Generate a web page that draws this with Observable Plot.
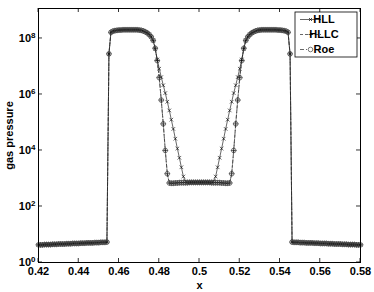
<!DOCTYPE html>
<html><head><meta charset="utf-8">
<script src="https://cdn.jsdelivr.net/npm/d3@7"></script>
<script src="https://cdn.jsdelivr.net/npm/@observablehq/plot@0.6"></script>
<style>
body{margin:0;background:#fff}
#chart svg text{font-family:"Liberation Sans",Arial,Helvetica,sans-serif;font-weight:bold;font-size:11px}
#chart svg text tspan.sup{font-size:8px}
</style>
</head><body><div id="chart"></div>
<script>
// grid: x = 0.420 .. 0.580, step 0.001 (161 cells)
const xGrid = d3.range(161).map(i => +(0.42 + 0.001 * i).toFixed(3));

// log10(gas pressure)
const lowLeft = [0.63,0.63,0.63,0.64,0.64,0.64,0.64,0.65,0.65,0.65,0.66,0.66,0.66,0.66,0.67,0.67,0.67,0.68,0.68,0.68,0.68,0.69,0.69,0.69,0.70,0.70,0.70,0.70,0.71,0.71,0.71,0.72,0.72,0.72,0.73];
const shockLeft = [7.45];
const plateauLeft = [8.22,8.26,8.28,8.29,8.30,8.30,8.31,8.31,8.31,8.31,8.31,8.31,8.31,8.31,8.30,8.29,8.27,8.24,8.20,8.14,8.06,7.93];
const plateauRight = [7.93,8.06,8.14,8.20,8.24,8.27,8.29,8.30,8.31,8.31,8.31,8.31,8.31,8.31,8.31,8.31,8.30,8.30,8.29,8.28,8.26,8.22];
const shockRight = [7.45];
const lowRight = [0.73,0.72,0.72,0.72,0.71,0.71,0.71,0.70,0.70,0.70,0.70,0.69,0.69,0.69,0.68,0.68,0.68,0.68,0.67,0.67,0.67,0.66,0.66,0.66,0.66,0.65,0.65,0.65,0.64,0.64,0.64,0.64,0.63,0.63,0.63];

const hllCenter = [7.62,7.25,6.92,6.62,6.33,6.05,5.74,5.43,5.10,4.77,4.42,4.07,3.74,3.40,3.07,2.90,
  2.86,2.86,2.86,2.86,2.86,2.86,2.86,2.86,2.86,2.86,2.86,2.86,2.86,
  2.90,3.07,3.40,3.74,4.07,4.42,4.77,5.10,5.43,5.74,6.05,6.33,6.62,6.92,7.25,7.62];
const hllcCenter = [7.65,7.21,6.60,5.80,4.95,4.00,3.17,
  2.84,2.83,2.83,2.84,2.84,2.85,2.85,2.85,2.85,2.85,2.86,2.86,2.86,2.86,2.86,2.86,2.86,2.86,2.86,2.86,2.86,2.85,2.85,2.85,2.85,2.85,2.84,2.84,2.83,2.83,2.84,
  3.17,4.00,4.95,5.80,6.60,7.21,7.65];
const roeCenter = [7.65,7.21,6.60,5.80,4.95,4.00,3.17,
  2.84,2.83,2.83,2.84,2.84,2.85,2.85,2.85,2.85,2.85,2.86,2.86,2.86,2.86,2.86,2.86,2.86,2.86,2.86,2.86,2.86,2.85,2.85,2.85,2.85,2.85,2.84,2.84,2.83,2.83,2.84,
  3.17,4.00,4.95,5.80,6.60,7.21,7.65];

const xTicks = [0.42,0.44,0.46,0.48,0.5,0.52,0.54,0.56,0.58];
const yTicks = [1,1e2,1e4,1e6,1e8];
const seriesNames = ["HLL","HLLC","Roe"];

function build(center){ return [...lowLeft,...shockLeft,...plateauLeft,...center,...plateauRight,...shockRight,...lowRight]; }
function rows(center){ return build(center).map((v,i)=>({x:xGrid[i], p:Math.pow(10,v)})); }
const hll = rows(hllCenter), hllc = rows(hllcCenter), roe = rows(roeCenter);

const font = "Liberation Sans, Arial, Helvetica, sans-serif";
const plot = Plot.plot({
  width: 374, height: 292,
  marginLeft: 38, marginRight: 14, marginTop: 8, marginBottom: 30,
  style: {fontFamily: font, fontSize: "11px", fontWeight: "bold", background: "white", color: "black"},
  x: {domain: [0.42, 0.58]},
  y: {type: "log", domain: [1, Math.pow(10, 9.07)]},
  marks: [
    Plot.axisX({ticks: xTicks, tickSize: 0, tickPadding: 5, tickFormat: d => String(+d.toFixed(2)), label: null}),
    Plot.axisY({ticks: yTicks, tickSize: 0, tickPadding: 3, tickFormat: d => String(Math.round(Math.log10(d))), label: null}),
    Plot.line(hll, {x: "x", y: "p", stroke: "black", strokeWidth: 0.6}),
    Plot.dot(hll, {x: "x", y: "p", symbol: "times", r: 1.8, stroke: "black", strokeWidth: 0.6}),
    Plot.line(hllc, {x: "x", y: "p", stroke: "black", strokeWidth: 0.6, strokeDasharray: "3,2"}),
    Plot.dot(hllc, {x: "x", y: "p", symbol: "plus", r: 2, stroke: "black", strokeWidth: 0.6}),
    Plot.line(roe, {x: "x", y: "p", stroke: "#333", strokeWidth: 0.6, strokeDasharray: "4,2,1,2"}),
    Plot.dot(roe, {x: "x", y: "p", symbol: "circle", r: 2.3, stroke: "#444", strokeWidth: 0.7, fill: "none"}),
    Plot.frame({stroke: "black", strokeWidth: 1}),
    Plot.text(["gas pressure"], {frameAnchor: "left", dx: -29, rotate: -90, textAnchor: "middle", lineAnchor: "middle"}),
    Plot.text(["x"], {frameAnchor: "bottom", dy: 23, textAnchor: "middle", lineAnchor: "middle"})
  ]
});
document.getElementById("chart").appendChild(plot);

const svg = d3.select(plot);
// y tick labels as 10 with superscript exponent
svg.selectAll('g[aria-label="y-axis tick label"] text').each(function(){
  const t = d3.select(this); const e = t.text();
  t.text("10");
  t.append("tspan").attr("class", "sup").attr("dy", "-0.45em").text(e);
});
// inward ticks on all four sides
const sx = plot.scale("x"), sy = plot.scale("y");
const x0 = 38, x1 = 360, y0 = 8, y1 = 262, L = 4;
const tg = svg.append("g").attr("stroke", "black").attr("stroke-width", 0.8);
xTicks.forEach(v => {
  const px = sx.apply(v);
  tg.append("line").attr("x1", px).attr("x2", px).attr("y1", y1).attr("y2", y1 - L);
  tg.append("line").attr("x1", px).attr("x2", px).attr("y1", y0).attr("y2", y0 + L);
});
yTicks.forEach(v => {
  const py = sy.apply(v);
  tg.append("line").attr("x1", x0).attr("x2", x0 + L).attr("y1", py).attr("y2", py);
  tg.append("line").attr("x1", x1).attr("x2", x1 - L).attr("y1", py).attr("y2", py);
});
// legend
const lg = svg.append("g");
lg.append("rect").attr("x", 295).attr("y", 12).attr("width", 62).attr("height", 45)
  .attr("fill", "white").attr("stroke", "black").attr("stroke-width", 0.8);
const dashes = [null, "3,2", "4,2,1,2"];
seriesNames.forEach((name, i) => {
  const yy = 19.5 + i * 15;
  lg.append("line").attr("x1", 300).attr("x2", 321).attr("y1", yy).attr("y2", yy)
    .attr("stroke", "black").attr("stroke-width", 0.6).attr("stroke-dasharray", dashes[i]);
  const cx = 310.5;
  if (i === 0) {
    lg.append("path").attr("d", `M${cx-1.5},${yy-1.5}L${cx+1.5},${yy+1.5}M${cx-1.5},${yy+1.5}L${cx+1.5},${yy-1.5}`).attr("stroke","black").attr("stroke-width",0.7);
  } else if (i === 1) {
    lg.append("path").attr("d", `M${cx-2},${yy}L${cx+2},${yy}M${cx},${yy-2}L${cx},${yy+2}`).attr("stroke","black").attr("stroke-width",0.7);
  } else {
    lg.append("circle").attr("cx", cx).attr("cy", yy).attr("r", 2.3).attr("fill", "white").attr("stroke", "#444").attr("stroke-width", 0.7);
  }
  lg.append("text").attr("x", 324).attr("y", yy).attr("dy", "0.35em").text(name);
});
</script>
</body></html>
